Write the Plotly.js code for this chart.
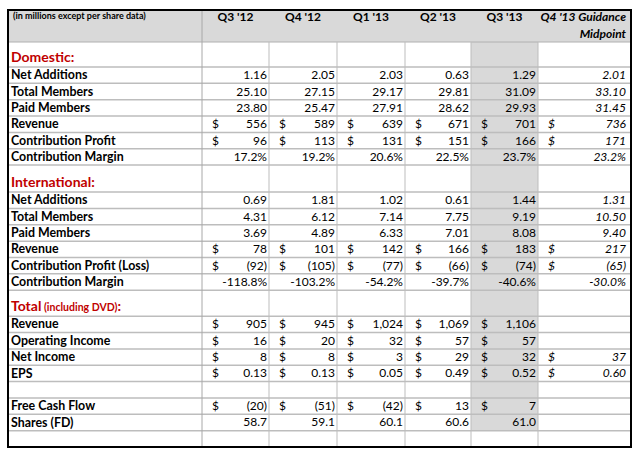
<!DOCTYPE html>
<html>
<head>
<meta charset="utf-8">
<script src="https://cdn.plot.ly/plotly-3.0.1.min.js"></script>
<style>html,body{margin:0;padding:0;background:#fff;}#chart{width:636px;height:455px;}</style>
</head>
<body>
<div id="chart"></div>
<script>
// ---------- DATA ----------
const unitNote = "(in millions except per share data)";
const columns = ["Q3 '12", "Q4 '12", "Q1 '13", "Q2 '13", "Q3 '13", "Q4 '13 Guidance"];
const guidanceSub = "Midpoint";

const domNetAdditions = [1.16, 2.05, 2.03, 0.63, 1.29, 2.01];
const domTotalMembers = [25.10, 27.15, 29.17, 29.81, 31.09, 33.10];
const domPaidMembers = [23.80, 25.47, 27.91, 28.62, 29.93, 31.45];
const domRevenue = [556, 589, 639, 671, 701, 736];
const domContribProfit = [96, 113, 131, 151, 166, 171];
const domContribMargin = [17.2, 19.2, 20.6, 22.5, 23.7, 23.2];

const intNetAdditions = [0.69, 1.81, 1.02, 0.61, 1.44, 1.31];
const intTotalMembers = [4.31, 6.12, 7.14, 7.75, 9.19, 10.50];
const intPaidMembers = [3.69, 4.89, 6.33, 7.01, 8.08, 9.40];
const intRevenue = [78, 101, 142, 166, 183, 217];
const intContribProfit = [-92, -105, -77, -66, -74, -65];
const intContribMargin = [-118.8, -103.2, -54.2, -39.7, -40.6, -30.0];

const totRevenue = [905, 945, 1024, 1069, 1106, null];
const totOperatingIncome = [16, 20, 32, 57, 57, null];
const totNetIncome = [8, 8, 3, 29, 32, 37];
const totEPS = [0.13, 0.13, 0.05, 0.49, 0.52, 0.60];
const freeCashFlow = [-20, -51, -42, 13, 7, null];
const sharesFD = [58.7, 59.1, 60.1, 60.6, 61.0, null];

const rows = [
  {kind: 'section', label: '<b>Domestic:</b>'},
  {label: 'Net Additions', v: domNetAdditions, fmt: 'dec2'},
  {label: 'Total Members', v: domTotalMembers, fmt: 'dec2'},
  {label: 'Paid Members', v: domPaidMembers, fmt: 'dec2'},
  {label: 'Revenue', v: domRevenue, fmt: 'usd0'},
  {label: 'Contribution Profit', v: domContribProfit, fmt: 'usd0'},
  {label: 'Contribution Margin', v: domContribMargin, fmt: 'pct1'},
  {kind: 'section', label: '<b>International:</b>'},
  {label: 'Net Additions', v: intNetAdditions, fmt: 'dec2'},
  {label: 'Total Members', v: intTotalMembers, fmt: 'dec2'},
  {label: 'Paid Members', v: intPaidMembers, fmt: 'dec2'},
  {label: 'Revenue', v: intRevenue, fmt: 'usd0'},
  {label: 'Contribution Profit (Loss)', v: intContribProfit, fmt: 'usd0'},
  {label: 'Contribution Margin', v: intContribMargin, fmt: 'pct1'},
  {kind: 'section', label: '<b>Total</b><span style="font-size:10.5px"><b> (including DVD)</b></span><b>:</b>'},
  {label: 'Revenue', v: totRevenue, fmt: 'usd0'},
  {label: 'Operating Income', v: totOperatingIncome, fmt: 'usd0'},
  {label: 'Net Income', v: totNetIncome, fmt: 'usd0'},
  {label: 'EPS', v: totEPS, fmt: 'usd2'},
  {kind: 'blank'},
  {label: 'Free Cash Flow', v: freeCashFlow, fmt: 'usd0'},
  {label: 'Shares (FD)', v: sharesFD, fmt: 'dec1'},
  {kind: 'blank'}
];

// ---------- STYLE / GEOMETRY ----------
const FONT = 'Lato, "Open Sans", sans-serif';
const RED = '#c00000';
const GRID = '#bdbdbd';
const FILL = '#d9d9d9';
const X0 = 8, X1 = 631, Y0 = 10;
const colEdges = [8, 202, 269, 337, 405, 471, 538, 631];
const HEADER_H = 32, NORMAL_H = 16.35;
const sectionH = [25, 27, 26];
const highlightCol = 4;

// row geometry
let y = Y0 + HEADER_H;
let si = 0;
const geo = rows.map(r => {
  const h = r.kind === 'section' ? sectionH[si++] : NORMAL_H;
  const g = {top: y, bottom: y + h};
  y += h;
  return g;
});
const tableBottom = y;

function commas(n) { return n.toString().replace(/\B(?=(\d{3})+(?!\d))/g, ','); }
function fmtVal(v, fmt) {
  if (v === null || v === undefined) return {d: '', t: ''};
  switch (fmt) {
    case 'dec2': return {d: '', t: v.toFixed(2)};
    case 'dec1': return {d: '', t: v.toFixed(1)};
    case 'pct1': return {d: '', t: v.toFixed(1) + '%'};
    case 'usd2': return {d: '$', t: v.toFixed(2)};
    case 'usd0': return {d: '$', t: v < 0 ? '(' + commas(Math.abs(v)) + ')' : commas(v)};
  }
}

const traces = [];
// labels
const lx = [], ly = [], lt = [], lc = [], ls = [];
rows.forEach((r, i) => {
  if (r.kind === 'blank') return;
  const g = geo[i];
  lx.push(X0 + 3);
  if (r.kind === 'section') {
    ly.push(g.bottom - 9); lt.push(r.label); lc.push(RED); ls.push(14);
  } else {
    ly.push((g.top + g.bottom) / 2 + 1); lt.push('<b>' + r.label + '</b>'); lc.push('#000'); ls.push(12.4);
  }
});
traces.push({type: 'scatter', mode: 'text', x: lx, y: ly, text: lt, textposition: 'middle right',
  textfont: {family: FONT, size: ls, color: lc}, hoverinfo: 'skip', cliponaxis: false});

// values per column
columns.forEach((c, ci) => {
  const left = colEdges[ci + 1], right = colEdges[ci + 2];
  const italic = ci === columns.length - 1;
  const vx = [], vy = [], vt = [], dx = [], dy = [], dt = [];
  rows.forEach((r, i) => {
    if (!r.v) return;
    const g = geo[i];
    const yc = (g.top + g.bottom) / 2 + 1;
    const f = fmtVal(r.v[ci], r.fmt);
    if (f.t) { vx.push(right - (italic ? 5 : 2)); vy.push(yc); vt.push(italic ? '<i>' + f.t + '</i>' : f.t); }
    if (f.d) { dx.push(left + 10); dy.push(yc); dt.push(italic ? '<i>' + f.d + '</i>' : f.d); }
  });
  traces.push({type: 'scatter', mode: 'text', x: vx, y: vy, text: vt, textposition: 'middle left',
    textfont: {family: FONT, size: 12, color: '#000'}, hoverinfo: 'skip', cliponaxis: false});
  traces.push({type: 'scatter', mode: 'text', x: dx, y: dy, text: dt, textposition: 'middle right',
    textfont: {family: FONT, size: 12, color: '#000'}, hoverinfo: 'skip', cliponaxis: false});
});

// header texts
const hx = [X0 + 5], hy = [Y0 + 7], ht = ['<b>' + unitNote + '</b>'], hp = ['middle right'], hs = [9];
columns.forEach((c, ci) => {
  const left = colEdges[ci + 1], right = colEdges[ci + 2];
  if (ci === columns.length - 1) {
    hx.push(right - 5, right - 5); hy.push(Y0 + 8, Y0 + 25);
    ht.push('<b><i>' + c + '</i></b>', '<b><i>' + guidanceSub + '</i></b>');
    hp.push('middle left', 'middle left'); hs.push(12, 12);
  } else {
    hx.push((left + right) / 2); hy.push(Y0 + 8); ht.push('<b>' + c + '</b>'); hp.push('middle center'); hs.push(12);
  }
});
traces.push({type: 'scatter', mode: 'text', x: hx, y: hy, text: ht, textposition: hp,
  textfont: {family: FONT, size: hs, color: '#000'}, hoverinfo: 'skip', cliponaxis: false});

// shapes
const shapes = [];
shapes.push({type: 'rect', xref: 'x', yref: 'y', x0: X0, x1: X1, y0: Y0, y1: Y0 + HEADER_H, fillcolor: FILL, line: {width: 0}, layer: 'below'});
shapes.push({type: 'rect', xref: 'x', yref: 'y', x0: colEdges[highlightCol + 1], x1: colEdges[highlightCol + 2],
  y0: Y0 + HEADER_H, y1: geo[geo.length - 1].top, fillcolor: FILL, line: {width: 0}, layer: 'below'});
// horizontal grid
shapes.push({type: 'line', xref: 'x', yref: 'y', x0: X0, x1: X1, y0: Y0 + HEADER_H, y1: Y0 + HEADER_H, line: {color: '#b0b0b0', width: 1}, layer: 'below'});
geo.forEach((g, i) => {
  if (i === geo.length - 1) return;
  shapes.push({type: 'line', xref: 'x', yref: 'y', x0: X0, x1: X1, y0: g.bottom, y1: g.bottom, line: {color: GRID, width: 1.5}, layer: 'below'});
});
// vertical grid
colEdges.slice(1, -1).forEach((xe, k) => {
  shapes.push({type: 'line', xref: 'x', yref: 'y', x0: xe, x1: xe, y0: k === 0 ? Y0 : Y0 + HEADER_H, y1: tableBottom,
    line: {color: k === 0 ? '#a8a8a8' : GRID, width: 1}, layer: 'below'});
});
// outer border
shapes.push({type: 'rect', xref: 'x', yref: 'y', x0: X0, x1: X1, y0: Y0, y1: tableBottom, line: {color: '#000', width: 2}, fillcolor: 'rgba(0,0,0,0)'});

const layout = {
  width: 636, height: 455,
  margin: {l: 0, r: 0, t: 0, b: 0, pad: 0},
  paper_bgcolor: '#fff', plot_bgcolor: '#fff',
  showlegend: false,
  xaxis: {range: [0, 636], visible: false, fixedrange: true},
  yaxis: {range: [455, 0], visible: false, fixedrange: true},
  shapes: shapes,
  font: {family: FONT}
};
Plotly.newPlot('chart', traces, layout, {displayModeBar: false, staticPlot: true});
</script>
</body>
</html>
